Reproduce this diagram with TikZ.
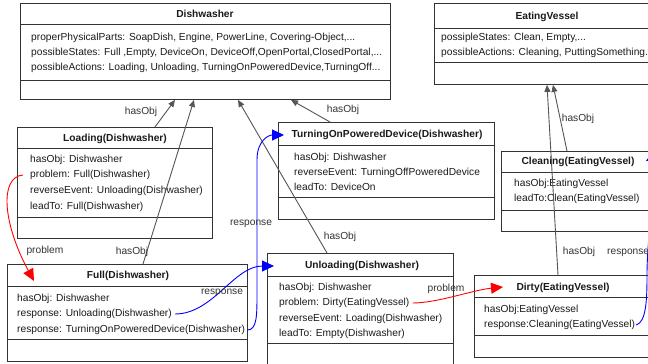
\documentclass[tikz,border=0pt]{standalone}
\usepackage{fontspec}
\setmainfont{Liberation Sans}
\usetikzlibrary{arrows.meta,calc}
\definecolor{bord}{HTML}{333333}
\definecolor{conn}{HTML}{555555}
\definecolor{txt}{HTML}{1A1A1A}
\definecolor{rrel}{HTML}{FF0000}
\definecolor{brel}{HTML}{0000FF}
\begin{document}
\begin{tikzpicture}[x=1pt,y=-1pt,
  font=\fontsize{10.2}{12}\selectfont, text=txt,
  box/.style={draw=bord, line width=0.9pt, anchor=north west, inner sep=0pt, fill=white},
  divl/.style={draw=bord, line width=0.9pt},
  ttl/.style={font=\fontsize{10.2}{12}\selectfont\bfseries, inner sep=0pt, anchor=center, text height=8pt, text depth=1pt},
  attr/.style={inner sep=0pt, anchor=west, text height=8pt, text depth=1pt},
  lbl/.style={inner sep=0pt, anchor=center, text height=8pt, text depth=1pt, text=black!80},
  hasobj/.style={draw=conn, line width=0.9pt, -{Triangle[length=7pt,width=6pt]}, color=conn},
  probl/.style={draw=rrel, line width=0.9pt, -{Triangle[length=12pt,width=11pt]}, color=rrel},
  resp/.style={draw=brel, line width=0.9pt, -{Triangle[length=12pt,width=11pt]}, color=brel}]
\useasboundingbox (0,0) rectangle (648,364);
\clip (0,0) rectangle (648,364);
\fill[white] (0,0) rectangle (648,364);

% ---- Dishwasher
\node[box, minimum width=370pt, minimum height=96pt] (dw) at (20,3) {};
\draw[divl] (20,24) -- (390,24) (20,80) -- (390,80);
\node[ttl] (dwt) at (205,14) {Dishwasher};
\node[attr] (dw1) at (31,37) {properPhysicalParts: SoapDish, Engine, PowerLine, Covering-Object,...};
\node[attr] (dw2) at (31,52) {possibleStates: Full ,Empty, DeviceOn, DeviceOff,OpenPortal,ClosedPortal,...};
\node[attr] (dw3) at (31,67) {possibleActions: Loading, Unloading, TurningOnPoweredDevice,TurningOff...};

% ---- EatingVessel
\node[box, minimum width=226pt, minimum height=81pt] (ev) at (434,3) {};
\draw[divl] (434,28) -- (660,28) (434,62) -- (660,62);
\node[ttl] (evt) at (547,16) {EatingVessel};
\node[attr] (ev1) at (441,37) {possipleStates: Clean, Empty,...};
\node[attr] (ev2) at (441,52) {possibleActions: Cleaning, PuttingSomething...};

% ---- Loading
\node[box, minimum width=195pt, minimum height=111pt] (load) at (17,127) {};
\draw[divl] (17,148) -- (212,148) (17,217) -- (212,217);
\node[ttl] (loadt) at (115,138) {Loading(Dishwasher)};
\node[attr] (load1) at (30,159) {hasObj: Dishwasher};
\node[attr] (loadprob) at (30,174) {problem: Full(Dishwasher)};
\node[attr] (load3) at (30,190) {reverseEvent: Unloading(Dishwasher)};
\node[attr] (load4) at (30,206) {leadTo: Full(Dishwasher)};

% ---- TurningOnPoweredDevice
\node[box, minimum width=216pt, minimum height=97pt] (turn) at (278,122) {};
\draw[divl] (278,145) -- (494,145) (278,197) -- (494,197);
\node[ttl] (turnt) at (387,134) {TurningOnPoweredDevice(Dishwasher)};
\node[attr] (turn1) at (294,157) {hasObj: Dishwasher};
\node[attr] (turn2) at (294,172) {reverseEvent: TurningOffPoweredDevice};
\node[attr] (turn3) at (294,187) {leadTo: DeviceOn};

% ---- Cleaning
\node[box, minimum width=154pt, minimum height=80pt] (clean) at (501,151) {};
\draw[divl] (501,172) -- (655,172) (501,210) -- (655,210);
\node[ttl] (cleant) at (578,161) {Cleaning(EatingVessel)};
\node[attr] (clean1) at (514,183) {hasObj:EatingVessel};
\node[attr] (clean2) at (514,198) {leadTo:Clean(EatingVessel)};

% ---- Full
\node[box, minimum width=240pt, minimum height=97pt] (full) at (7,264) {};
\draw[divl] (7,286) -- (247,286) (7,339) -- (247,339);
\node[ttl] (fullt) at (128,275) {Full(Dishwasher)};
\node[attr] (full1) at (17,298) {hasObj: Dishwasher};
\node[attr] (fullr1) at (17,313) {response: Unloading(Dishwasher)};
\node[attr] (fullr2) at (17,329) {response: TurningOnPoweredDevice(Dishwasher)};

% ---- Unloading
\node[box, minimum width=186pt, minimum height=120pt] (unload) at (267,253) {};
\draw[divl] (267,276) -- (453,276) (267,343) -- (453,343);
\node[ttl] (unloadt) at (362,265) {Unloading(Dishwasher)};
\node[attr] (unload1) at (279,287) {hasObj: Dishwasher};
\node[attr] (unprob) at (279,302) {problem: Dirty(EatingVessel)};
\node[attr] (unload3) at (279,318) {reverseEvent: Loading(Dishwasher)};
\node[attr] (unload4) at (279,333) {leadTo: Empty(Dishwasher)};

% ---- Dirty
\node[box, minimum width=178pt, minimum height=82pt] (dirty) at (474,275) {};
\draw[divl] (474,297) -- (652,297) (474,335) -- (652,335);
\node[ttl] (dirtyt) at (563,287) {Dirty(EatingVessel)};
\node[attr] (dirty1) at (484,309) {hasObj:EatingVessel};
\node[attr] (dirtyresp) at (484,324) {response:Cleaning(EatingVessel)};

% ---- hasObj connectors
\draw[hasobj] ($(load.north west)+(138,0)$) -- ($(dw.south west)+(155,0)$);
\draw[hasobj] ($(full.north west)+(136,0)$) -- ($(dw.south west)+(174,0)$);
\draw[hasobj] ($(unload.north west)+(60,0)$) -- ($(dw.south west)+(218,0)$);
\draw[hasobj] ($(turn.north west)+(52,0)$) -- ($(dw.south west)+(271,0)$);
\draw[hasobj] ($(clean.north west)+(66,0)$) -- ($(ev.south west)+(119,0)$);
\draw[hasobj] ($(dirty.north west)+(84,0)$) -- ($(ev.south west)+(113,0)$);

\node[lbl] (l1) at (141,111) {hasObj};
\node[lbl] (l2) at (132,251) {hasObj};
\node[lbl] (l3) at (343,109) {hasObj};
\node[lbl] (l4) at (340,236) {hasObj};
\node[lbl] (l5) at (578,118) {hasObj};
\node[lbl] (l6) at (579,251) {hasObj};

% ---- problem connectors
\draw[probl] ([xshift=-7pt,yshift=-1pt]loadprob.west)
  .. controls +(-24,2) and ($(full.north west)+(-4,-40)$) .. ($(full.north west)+(27,17)$);
\node[lbl] (l7) at (45,250) {problem};
\draw[probl] ([xshift=3pt,yshift=-1pt]unprob.east)
  .. controls +(25,0) and +(-30,3) .. ($(dirty.north west)+(29,12)$);
\node[lbl] (l8) at (446,288) {problem};

% ---- response connectors
\draw[resp] ([xshift=3pt,yshift=-1pt]fullr1.east)
  .. controls +(38,0) and +(-40,0) .. ($(unload.north west)+(7,13)$);
\node[lbl] (l9) at (222,291) {response};
\draw[resp] ([xshift=2pt,yshift=-1pt]fullr2.east)
  .. controls +(10,0) and +(0,25) .. (257,290) -- (257,160)
  .. controls +(0,-20) and +(-15,0) .. ($(turn.north west)+(6,13)$);
\node[lbl] (l10) at (251,222) {response};
\draw[resp] ([xshift=1pt,yshift=-1pt]dirtyresp.east)
  .. controls +(10,-3) and +(0,25) .. (647,275)
  .. controls +(0,-50) and +(15,-8) .. ($(clean.north east)+(-10,10)$);
\node[lbl,anchor=west] (l11) at (607,251) {response};
\end{tikzpicture}
\end{document}
